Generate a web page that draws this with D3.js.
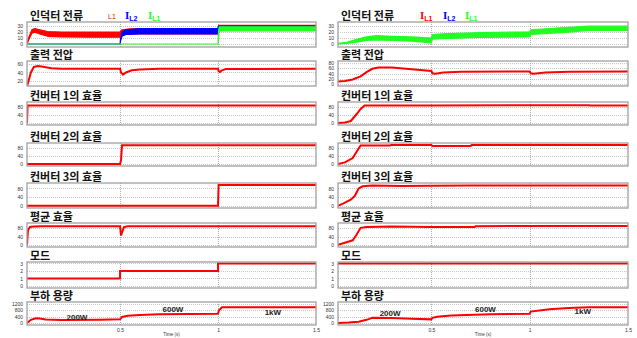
<!DOCTYPE html>
<html><head><meta charset="utf-8">
<script src="https://cdn.jsdelivr.net/npm/d3@7"></script>
<style>body{margin:0;background:#fff;} svg{display:block;}</style>
</head><body><svg id="c" width="637" height="338"></svg>
<script>
// ---------- text ----------
const panelTitles = ["인덕터 전류","출력 전압","컨버터 1의 효율","컨버터 2의 효율","컨버터 3의 효율","평균 효율","모드","부하 용량"];
const xTickValues = [0.5, 1, 1.5];
const xLabel = "Time (s)";
const currentTicks = [0, 10, 20, 30];
const voltTicksLeft = [20, 40, 60];
const voltTicksRight = [0, 20, 40, 60, 80];
const effTicks = [0, 40, 80];
const modeTicks = [0, 1, 2, 3];
const loadTicks = [0, 400, 800, 1200];
const loadLabels = ["200W", "600W", "1kW"];
const legendLeftNames = [["", "L1"], ["I", "L2"], ["I", "L1"]];
const legendRightNames = [["I", "L1"], ["I", "L2"], ["I", "L1"]];

// ---------- left column data: [t, low, high] for currents, [t, value] otherwise ----------
const leftIL1 = [[0.025,0,0],[0.035,8,12],[0.05,18,24],[0.065,20,26],[0.09,17,24],[0.13,13,21],[0.2,12,20],[0.35,11.5,20],[0.5,11.5,20],[0.51,16,24],[0.55,17,25.5],[1.0,17,26],[1.003,28,31.5],[1.5,29,31.5]];
const leftIL2 = [[0.025,0,0],[0.5,0,0],[0.502,5,8],[0.51,13,20],[0.53,16,24],[0.6,17,26],[1.0,17,26.5],[1.003,27,30],[1.5,27.5,30]];
const leftIL3 = [[0.025,0,0],[1.0,0,0],[1.002,10,20],[1.006,22,29],[1.5,22,29]];
const leftVolt = [[0.025,8],[0.03,15],[0.045,40],[0.06,53],[0.08,55],[0.1,54],[0.15,50],[0.2,49],[0.5,49],[0.505,40],[0.515,35],[0.53,40],[0.56,45],[0.6,47],[0.7,48.5],[1.0,48.5],[1.003,43],[1.01,41],[1.02,45],[1.04,48],[1.5,48.5]];
const leftEff1 = [[0.025,0],[0.028,88],[1.5,88]];
const leftEff2 = [[0.025,0],[0.5,0],[0.505,20],[0.51,94],[1.5,94]];
const leftEff3 = [[0.025,0],[1.0,0],[1.003,96],[1.5,96]];
const leftAvg = [[0.025,0],[0.03,70],[0.04,86],[0.06,88],[0.1,90],[0.5,90],[0.502,70],[0.505,45],[0.51,60],[0.52,85],[0.54,90],[1.5,90]];
const leftMode = [[0.025,1],[0.5,1],[0.5,2],[1.0,2],[1.0,3],[1.5,3]];
const leftLoad = [[0.025,0],[0.045,200],[0.07,300],[0.09,290],[0.12,220],[0.2,190],[0.4,210],[0.5,230],[0.51,380],[0.54,460],[0.6,510],[0.7,560],[1.0,580],[1.005,800],[1.02,990],[1.5,1000]];

// ---------- right column data ----------
const rightIL3 = [[0.025,0,1],[0.07,1,3],[0.12,3,8],[0.17,6,12],[0.22,7,14],[0.3,6,13],[0.4,5,12],[0.5,2,10],[0.505,8,16],[0.55,9,17],[0.75,11,19],[1.0,12,20.5],[1.005,16,24],[1.1,18,26],[1.2,20,28],[1.3,23,30],[1.5,23,30]];
const rightVolt = [[0.025,9],[0.06,11],[0.1,17],[0.14,29],[0.17,45],[0.2,58],[0.23,63],[0.3,63],[0.4,56],[0.5,50],[0.505,41],[0.52,39],[0.56,44],[0.65,47],[1.0,48],[1.005,41],[1.02,39],[1.08,44],[1.2,47],[1.5,48]];
const rightEff1 = [[0.025,0],[0.06,3],[0.09,10],[0.12,45],[0.14,70],[0.16,88],[0.5,88],[1.0,89],[1.3,89],[1.31,87],[1.5,87]];
const rightEff2 = [[0.025,0],[0.06,8],[0.1,30],[0.125,70],[0.14,92],[0.29,92],[0.295,95],[0.5,95],[0.505,90],[0.7,90],[0.705,95],[1.5,95]];
const rightEff3 = [[0.025,0],[0.05,10],[0.09,28],[0.11,45],[0.13,80],[0.15,90],[0.2,93],[0.35,91],[0.5,92],[0.7,94],[1.5,94]];
const rightAvg = [[0.025,0],[0.06,10],[0.1,22],[0.12,50],[0.14,82],[0.17,86],[0.3,88],[0.5,86],[0.72,86],[0.725,90],[1.0,91],[1.5,91]];
const rightMode = [[0.025,3],[1.5,3]];
const rightLoad = [[0.025,0],[0.08,30],[0.13,80],[0.17,200],[0.2,330],[0.3,310],[0.4,270],[0.5,230],[0.505,330],[0.53,400],[0.6,480],[0.8,550],[1.0,580],[1.005,720],[1.1,870],[1.2,950],[1.3,1000],[1.5,1000]];

// ---------- layout ----------
const svg = d3.select("#c");
const tops = [22, 61, 102, 143, 183, 223, 262, 302];
const heights = [25, 25, 23, 23, 25, 24, 26, 23];
const RED = "#ff0000", BLUE = "#0000ff", GREEN = "#22ff22";
const TFONT = "'Noto Sans CJK KR', sans-serif";

const cols = [
  { x0: 27, x1: 316, titleX: 30, legendX: [108, 125, 148],
    legend: legendLeftNames,
    volt: { dom: [8, 67], ticks: voltTicksLeft },
    currents: [[leftIL1, RED], [leftIL2, BLUE], [leftIL3, GREEN]],
    volts: leftVolt, eff: [leftEff1, leftEff2, leftEff3], avg: leftAvg, mode: leftMode, load: leftLoad,
    labelPos: [[0.28, 17.5], [0.77, 9.5], [1.28, 12.5]] },
  { x0: 338, x1: 628, titleX: 341, legendX: [420, 443, 465],
    legend: legendRightNames,
    volt: { dom: [-8, 88], ticks: voltTicksRight },
    currents: [[rightIL3, GREEN]],
    volts: rightVolt, eff: [rightEff1, rightEff2, rightEff3], avg: rightAvg, mode: rightMode, load: rightLoad,
    labelPos: [[0.29, 13.5], [0.775, 9.5], [1.27, 12]] }
];

let clipId = 0;
cols.forEach((c, ci) => {
  const x = d3.scaleLinear().domain([0.025, 1.5]).range([c.x0, c.x1]);
  const legendColors = [RED, BLUE, GREEN];

  const panels = [
    { dom: [-5, 37], ticks: currentTicks, kind: "band", series: c.currents },
    { dom: c.volt.dom, ticks: c.volt.ticks, kind: "line", series: [[c.volts, RED]] },
    { dom: [-10, 105], ticks: effTicks, kind: "line", series: [[c.eff[0], RED]] },
    { dom: [-10, 105], ticks: effTicks, kind: "line", series: [[c.eff[1], RED]] },
    { dom: [-10, 105], ticks: effTicks, kind: "line", series: [[c.eff[2], RED]] },
    { dom: [-10, 105], ticks: effTicks, kind: "line", series: [[c.avg, RED]] },
    { dom: [-0.27, 3.2], ticks: modeTicks, kind: "line", series: [[c.mode, RED]] },
    { dom: [-126, 1326], ticks: loadTicks, kind: "line", series: [[c.load, RED]] }
  ];

  panels.forEach((p, pi) => {
    const top = tops[pi], h = heights[pi];
    const y = d3.scaleLinear().domain(p.dom).range([top + h, top]);
    const g = svg.append("g");

    // title
    g.append("text").attr("x", c.titleX).attr("y", top - 2)
      .attr("font-family", TFONT).attr("font-weight", "bold").attr("font-size", 11)
      .attr("fill", "#111").text(panelTitles[pi]);

    // horizontal dotted grid
    g.selectAll(".hg").data(p.ticks).enter().append("line")
      .attr("x1", c.x0).attr("x2", c.x1)
      .attr("y1", d => Math.round(y(d)) + 0.5).attr("y2", d => Math.round(y(d)) + 0.5)
      .attr("stroke", "#b8b8b8").attr("stroke-width", 0.8).attr("stroke-dasharray", "1,1");
    // vertical dotted grid
    g.selectAll(".vg").data([0.5, 1]).enter().append("line")
      .attr("x1", d => Math.round(x(d)) + 0.5).attr("x2", d => Math.round(x(d)) + 0.5)
      .attr("y1", top).attr("y2", top + h)
      .attr("stroke", "#999").attr("stroke-width", 0.8).attr("stroke-dasharray", "1,1");

    // y axis labels
    const ax = d3.axisLeft(y).tickValues(p.ticks).tickSize(0).tickPadding(4)
      .tickFormat(d3.format("d"));
    const ag = g.append("g").attr("transform", `translate(${c.x0},0)`).call(ax);
    ag.select(".domain").remove();
    ag.selectAll("text").attr("font-size", 5).attr("font-family", "'Liberation Sans', sans-serif").attr("fill", "#333");

    // clip
    const id = "clip" + (clipId++);
    svg.append("clipPath").attr("id", id).append("rect")
      .attr("x", c.x0).attr("y", top).attr("width", c.x1 - c.x0).attr("height", h);
    const dg = g.append("g").attr("clip-path", `url(#${id})`);

    if (p.kind === "band") {
      const area = d3.area().x(d => x(d[0])).y0(d => y(d[1])).y1(d => y(d[2]));
      p.series.forEach(([data, col]) => {
        dg.append("path").datum(data).attr("d", area)
          .attr("fill", col).attr("stroke", col).attr("stroke-width", 1.2).attr("stroke-linejoin", "round");
      });
    } else {
      const line = d3.line().x(d => x(d[0])).y(d => y(d[1]));
      p.series.forEach(([data, col]) => {
        dg.append("path").datum(data).attr("d", line)
          .attr("fill", "none").attr("stroke", col).attr("stroke-width", 2);
      });
    }

    // frame
    g.append("rect").attr("x", c.x0).attr("y", top).attr("width", c.x1 - c.x0).attr("height", h)
      .attr("fill", "none").attr("stroke", "#a0a0a0").attr("stroke-width", 1.3);

    // legend on first panel
    if (pi === 0) {
      c.legend.forEach((nm, li) => {
        const t = g.append("text").attr("x", c.legendX[li]).attr("y", 19)
          .attr("fill", legendColors[li]);
        if (nm[0]) {
          t.append("tspan").attr("font-family", "'Liberation Serif', serif").attr("font-weight", "bold")
            .attr("font-size", 11).text(nm[0]);
          t.append("tspan").attr("font-family", "'Liberation Sans', sans-serif").attr("font-weight", "bold")
            .attr("font-size", 7).attr("dy", 2).text(nm[1]);
        } else {
          t.append("tspan").attr("font-family", "'Liberation Sans', sans-serif")
            .attr("font-size", 7).text(nm[1]);
        }
      });
    }

    // load labels and x axis on last panel
    if (pi === 7) {
      loadLabels.forEach((lb, li) => {
        g.append("text").attr("x", x(c.labelPos[li][0])).attr("y", top + c.labelPos[li][1])
          .attr("text-anchor", "middle").attr("font-family", "'Liberation Sans', sans-serif")
          .attr("font-weight", "bold").attr("font-size", 8).attr("fill", "#222").text(lb);
      });
      const xa = d3.axisBottom(x).tickValues(xTickValues).tickSize(0).tickPadding(3)
        .tickFormat(d => String(d));
      const xg = g.append("g").attr("transform", `translate(0,${top + h})`).call(xa);
      xg.select(".domain").remove();
      xg.selectAll("text").attr("font-size", 5).attr("font-family", "'Liberation Sans', sans-serif").attr("fill", "#333");
      g.append("text").attr("x", (c.x0 + c.x1) / 2).attr("y", 336)
        .attr("text-anchor", "middle").attr("font-size", 4.5)
        .attr("font-family", "'Liberation Sans', sans-serif").attr("fill", "#333").text(xLabel);
    }
  });
});
</script></body></html>
